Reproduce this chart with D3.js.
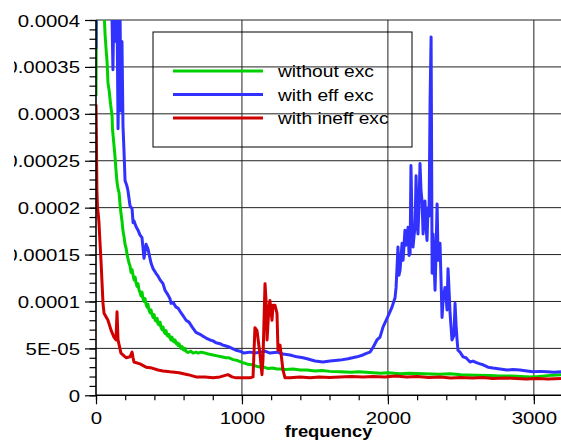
<!DOCTYPE html>
<html>
<head>
<meta charset="utf-8">
<script src="https://cdn.jsdelivr.net/npm/d3@7"></script>
<style>
  html, body { margin: 0; padding: 0; background: #fff; }
  svg { display: block; }
  text { font-family: "Liberation Sans", Arial, Helvetica, sans-serif; fill: #000; }
</style>
</head>
<body>
<svg id="chart" width="561" height="443"></svg>
<script>
// ---------- DATA ----------
const seriesNames = ["without exc", "with eff exc", "with ineff exc"];
const seriesColors = ["#00d000", "#3232ff", "#d00000"];

const xTickValues = [0, 1000, 2000, 3000];
const xTickLabels = ["0", "1000", "2000", "3000"];
const yTickValues = [0, 0.00005, 0.0001, 0.00015, 0.0002, 0.00025, 0.0003, 0.00035, 0.0004];
const yTickLabels = ["0", "5E-05", "0.0001", "0.00015", "0.0002", "0.00025", "0.0003", "0.00035", "0.0004"];
const xLabel = "frequency";

// [frequency, amplitude]
const withoutExc = [[0,31.9e-5],[7,60e-5],[20,58e-5],[35,50e-5],[48,43e-5],[55,41e-5],[62,38.5e-5],[69,36.9e-5],[76,35.5e-5],[82,33.3e-5],[90,32.5e-5],[100,31e-5],[110,29.8e-5],[113,28.4e-5],[121,27e-5],[130,25.5e-5],[137,24e-5],[144,22.7e-5],[151,22e-5],[158,21.6e-5],[165,20.3e-5],[171,19.4e-5],[178,18.6e-5],[185,17.5e-5],[192,16.9e-5],[199,16.1e-5],[206,15.7e-5],[213,15e-5],[220,14.5e-5],[226,14.1e-5],[233,13.8e-5],[240,13.1e-5],[247,13.4e-5],[254,12.8e-5],[261,12.3e-5],[268,12.6e-5],[274,12e-5],[281,11.6e-5],[288,11.9e-5],[295,11.2e-5],[301,11e-5],[308,10.6e-5],[315,11e-5],[322,10.3e-5],[329,10e-5],[336,10.3e-5],[343,9.7e-5],[350,9.4e-5],[356,9.7e-5],[363,9.1e-5],[370,8.8e-5],[377,9.1e-5],[384,8.6e-5],[391,8.3e-5],[398,8.6e-5],[405,8e-5],[412,7.9e-5],[419,8.2e-5],[425,7.6e-5],[432,7.5e-5],[439,7.8e-5],[446,7.2e-5],[453,7e-5],[459,7.3e-5],[466,6.8e-5],[473,6.6e-5],[480,6.9e-5],[486,6.4e-5],[493,6.3e-5],[500,6.5e-5],[507,6.1e-5],[514,5.9e-5],[521,6.2e-5],[528,5.8e-5],[535,5.7e-5],[542,5.9e-5],[549,5.5e-5],[556,5.6e-5],[562,5.3e-5],[569,5.5e-5],[576,5.2e-5],[583,5e-5],[590,5.2e-5],[596,4.9e-5],[603,4.8e-5],[610,5e-5],[617,4.7e-5],[624,4.6e-5],[637,4.6e-5],[650,4.7e-5],[665,4.5e-5],[685,4.6e-5],[700,4.5e-5],[720,4.6e-5],[747,4.5e-5],[770,4.4e-5],[802,4.3e-5],[830,4.2e-5],[860,4.1e-5],[890,4e-5],[911,4e-5],[940,3.8e-5],[970,3.7e-5],[1000,3.5e-5],[1014,3.45e-5],[1040,3.3e-5],[1070,3.25e-5],[1100,3.1e-5],[1124,3e-5],[1150,3e-5],[1180,2.85e-5],[1210,2.9e-5],[1240,2.8e-5],[1261,2.8e-5],[1300,2.75e-5],[1350,2.8e-5],[1400,2.7e-5],[1446,2.7e-5],[1500,2.6e-5],[1550,2.65e-5],[1600,2.55e-5],[1672,2.5e-5],[1750,2.45e-5],[1800,2.5e-5],[1898,2.4e-5],[1950,2.35e-5],[2000,2.4e-5],[2083,2.3e-5],[2150,2.35e-5],[2250,2.3e-5],[2350,2.25e-5],[2426,2.3e-5],[2500,2.2e-5],[2600,2.15e-5],[2700,2.1e-5],[2768,2.07e-5],[2850,2.05e-5],[2974,1.96e-5],[3030,2e-5],[3077,2.07e-5],[3130,2.15e-5],[3186,2.2e-5]];

const withEffExc = [[0,36.9e-5],[5,60e-5],[30,70e-5],[60,65e-5],[90,55e-5],[105,46e-5],[110,40e-5],[116,34.7e-5],[123,42e-5],[137,37.7e-5],[144,41e-5],[151,28.4e-5],[158,35.6e-5],[164,42e-5],[171,30.3e-5],[178,37.7e-5],[185,28.7e-5],[192,26e-5],[199,22.9e-5],[212,22.3e-5],[219,21.8e-5],[233,20.2e-5],[247,19.9e-5],[254,18.4e-5],[260,18.6e-5],[274,18e-5],[288,17.6e-5],[301,17.1e-5],[315,16.8e-5],[329,14.6e-5],[343,16.1e-5],[356,15.6e-5],[370,14.6e-5],[377,14.1e-5],[391,13.5e-5],[411,13e-5],[425,12.7e-5],[439,12.3e-5],[459,11.9e-5],[473,11.2e-5],[493,10.7e-5],[507,10.3e-5],[514,9.8e-5],[528,9.9e-5],[548,9.4e-5],[562,9.3e-5],[582,8.8e-5],[596,8.5e-5],[617,8e-5],[637,7.8e-5],[658,7.3e-5],[685,6.7e-5],[713,6.5e-5],[733,6.3e-5],[754,6.1e-5],[781,5.9e-5],[802,5.8e-5],[822,5.6e-5],[850,5.5e-5],[870,5.35e-5],[891,5.25e-5],[911,5.15e-5],[939,4.95e-5],[959,4.8e-5],[987,4.7e-5],[1014,4.5e-5],[1055,4.6e-5],[1089,4.5e-5],[1124,4.6e-5],[1158,4.7e-5],[1192,4.5e-5],[1240,4.6e-5],[1281,4.4e-5],[1329,4.3e-5],[1377,4.1e-5],[1418,4e-5],[1446,3.9e-5],[1501,3.65e-5],[1555,3.55e-5],[1603,3.65e-5],[1672,3.75e-5],[1727,3.9e-5],[1788,4.1e-5],[1829,4.3e-5],[1857,4.5e-5],[1877,4.6e-5],[1898,5.1e-5],[1925,5.9e-5],[1946,6.2e-5],[1967,7.3e-5],[1994,8.2e-5],[2014,8.9e-5],[2028,9.4e-5],[2049,10.4e-5],[2056,11.5e-5],[2069,15.8e-5],[2076,12.8e-5],[2083,13.3e-5],[2097,16.2e-5],[2104,14.4e-5],[2117,17.6e-5],[2124,16e-5],[2131,16.5e-5],[2138,17.9e-5],[2145,14.9e-5],[2152,15.1e-5],[2158,24.5e-5],[2165,18.6e-5],[2172,15.8e-5],[2179,17e-5],[2186,17.9e-5],[2193,23.4e-5],[2200,18.6e-5],[2206,17.2e-5],[2213,20.2e-5],[2220,24.7e-5],[2227,21.8e-5],[2234,20.7e-5],[2241,17.2e-5],[2248,19.1e-5],[2254,20.7e-5],[2261,18.1e-5],[2268,16.5e-5],[2275,20e-5],[2282,19.1e-5],[2289,31.4e-5],[2296,38.2e-5],[2303,13e-5],[2309,17.2e-5],[2316,14.4e-5],[2323,11.2e-5],[2330,15.4e-5],[2337,20.4e-5],[2344,14.4e-5],[2357,16.2e-5],[2364,12.3e-5],[2371,8.3e-5],[2378,10.1e-5],[2391,11.5e-5],[2398,10.7e-5],[2405,9.1e-5],[2412,13.5e-5],[2419,11.2e-5],[2426,8.75e-5],[2439,5.9e-5],[2453,6.4e-5],[2460,9.8e-5],[2467,7.5e-5],[2474,5.9e-5],[2480,4.8e-5],[2494,4.6e-5],[2515,4.1e-5],[2535,4e-5],[2563,3.55e-5],[2583,3.65e-5],[2611,3.45e-5],[2631,3.35e-5],[2652,3.25e-5],[2686,3e-5],[2720,2.9e-5],[2768,2.8e-5],[2816,2.7e-5],[2857,2.75e-5],[2905,2.7e-5],[2953,2.6e-5],[2994,2.5e-5],[3042,2.55e-5],[3090,2.5e-5],[3138,2.45e-5],[3186,2.5e-5]];

const withIneffExc = [[0,31e-5],[3,27e-5],[6,22e-5],[10,20e-5],[15,19.4e-5],[20,18.5e-5],[25,17e-5],[34,14.4e-5],[48,9.8e-5],[55,8.75e-5],[82,8e-5],[103,6.95e-5],[123,6.2e-5],[137,5.9e-5],[144,8.9e-5],[151,5.9e-5],[158,5.4e-5],[171,4.5e-5],[192,4.2e-5],[206,4e-5],[233,4.1e-5],[247,4.6e-5],[254,4e-5],[260,3.55e-5],[301,3.35e-5],[343,3e-5],[384,2.9e-5],[425,2.7e-5],[459,2.6e-5],[507,2.5e-5],[569,2.4e-5],[630,2.2e-5],[685,1.96e-5],[747,1.96e-5],[802,1.86e-5],[850,1.96e-5],[904,2.2e-5],[932,1.96e-5],[959,1.86e-5],[1014,1.86e-5],[1055,1.86e-5],[1076,1.96e-5],[1089,7.2e-5],[1103,6.9e-5],[1124,4.3e-5],[1137,2.2e-5],[1144,3.8e-5],[1158,11.9e-5],[1165,10.1e-5],[1172,5.9e-5],[1185,9.4e-5],[1192,10.1e-5],[1206,8e-5],[1213,9.6e-5],[1226,9.6e-5],[1240,8.75e-5],[1247,4.8e-5],[1261,5.35e-5],[1281,2.7e-5],[1295,1.86e-5],[1329,1.86e-5],[1398,1.96e-5],[1466,1.86e-5],[1530,1.95e-5],[1600,1.9e-5],[1672,1.95e-5],[1750,2e-5],[1830,1.95e-5],[1900,2e-5],[1980,1.95e-5],[2050,2.05e-5],[2130,1.95e-5],[2200,2e-5],[2280,1.9e-5],[2360,1.95e-5],[2430,1.85e-5],[2500,1.9e-5],[2580,1.85e-5],[2650,1.9e-5],[2720,1.8e-5],[2800,1.85e-5],[2880,1.8e-5],[2950,1.75e-5],[3020,1.8e-5],[3100,1.75e-5],[3186,1.8e-5]];

const allSeries = [withoutExc, withEffExc, withIneffExc];

// ---------- LAYOUT ----------
const svg = d3.select("#chart");
const plotLeft = 96, plotRight = 561, plotTop = 20, plotBottom = 395.3;
const stretch = 1.2;

const x = d3.scaleLinear().domain([0, 3186]).range([plotLeft, plotRight]);
const y = d3.scaleLinear().domain([0, 0.0004]).range([plotBottom, plotTop]);

const defs = svg.append("defs");
defs.append("clipPath").attr("id", "plotClip")
  .append("rect").attr("x", plotLeft).attr("y", plotTop).attr("width", plotRight - plotLeft).attr("height", plotBottom - plotTop);
defs.append("clipPath").attr("id", "labelClip")
  .append("rect").attr("x", 14).attr("y", 0).attr("width", 547).attr("height", 443);

// gridlines
const grid = svg.append("g");
grid.selectAll("line.h").data(yTickValues.filter(v => v > 0)).join("line").attr("class", "h")
  .attr("x1", plotLeft).attr("x2", plotRight)
  .attr("y1", d => y(d)).attr("y2", d => y(d))
  .attr("stroke", "#222").attr("stroke-width", 1);
grid.selectAll("line.v").data(xTickValues.filter(v => v > 0)).join("line").attr("class", "v")
  .attr("x1", d => x(d)).attr("x2", d => x(d))
  .attr("y1", plotTop).attr("y2", plotBottom)
  .attr("stroke", "#222").attr("stroke-width", 1);

// legend box & entries
const legend = svg.append("g");
legend.append("rect").attr("x", 153).attr("y", 32).attr("width", 259).attr("height", 115)
  .attr("fill", "none").attr("stroke", "#000").attr("stroke-width", 1);
const items = legend.selectAll("g.item").data(seriesNames).join("g").attr("class", "item")
  .attr("transform", (d, i) => `translate(0, ${71 + i * 23.5})`);
items.append("line").attr("x1", 173).attr("x2", 263).attr("y1", 0).attr("y2", 0)
  .attr("stroke", (d, i) => seriesColors[i]).attr("stroke-width", 3);
items.append("text").attr("transform", `translate(278, 6) scale(${stretch},1)`)
  .style("font-size", "16px").text(d => d);

// data lines
const lineGen = d3.line().x(d => x(d[0])).y(d => y(d[1]));
const plot = svg.append("g").attr("clip-path", "url(#plotClip)");
plot.selectAll("path").data(allSeries).join("path")
  .attr("d", lineGen)
  .attr("fill", "none")
  .attr("stroke", (d, i) => seriesColors[i])
  .attr("stroke-width", 3)
  .attr("stroke-linejoin", "round");

// axes
const yMinor = d3.range(0, 41).map(i => i * 0.00001);
const xMinor = d3.range(0, 17).map(i => i * 200);

const yAxisWrap = svg.append("g").attr("clip-path", "url(#labelClip)");
const yMinorG = yAxisWrap.append("g").attr("transform", `translate(${plotLeft},0)`)
  .call(d3.axisLeft(y).tickValues(yMinor).tickSize(6.5).tickFormat(""));
const yMajorG = yAxisWrap.append("g").attr("transform", `translate(${plotLeft},0)`)
  .call(d3.axisLeft(y).tickValues(yTickValues).tickSize(11)
    .tickFormat((d, i) => yTickLabels[i]));

const xMinorG = svg.append("g").attr("transform", `translate(0,${plotBottom})`)
  .call(d3.axisBottom(x).tickValues(xMinor).tickSize(5).tickFormat(""));
const xMajorG = svg.append("g").attr("transform", `translate(0,${plotBottom})`)
  .call(d3.axisBottom(x).tickValues(xTickValues).tickSize(9)
    .tickFormat((d, i) => xTickLabels[i]));

[yMinorG, yMajorG, xMinorG, xMajorG].forEach(g => {
  g.selectAll(".domain").attr("stroke", "#000").attr("stroke-width", 1.6);
  g.selectAll(".tick line").attr("stroke", "#000").attr("stroke-width", 1.2);
});
[yMinorG, xMinorG].forEach(g => g.select(".domain").remove());
yMajorG.select(".domain").attr("d", `M0,${plotBottom}V${plotTop}`);
xMajorG.select(".domain").attr("d", `M${plotLeft},0H${plotRight}`);

yMajorG.selectAll(".tick text")
  .attr("x", null).attr("dy", null)
  .attr("transform", `translate(-16,6) scale(${stretch},1)`)
  .attr("text-anchor", "end")
  .style("font-size", "17px").style("font-family", "'Liberation Sans', Arial, sans-serif").attr("fill", "#000");
xMajorG.selectAll(".tick text")
  .attr("y", null).attr("dy", null)
  .attr("transform", `translate(0,29) scale(${stretch},1)`)
  .attr("text-anchor", "middle")
  .style("font-size", "17px").style("font-family", "'Liberation Sans', Arial, sans-serif").attr("fill", "#000");

svg.append("text")
  .attr("transform", `translate(${(plotLeft + plotRight) / 2}, 437) scale(1.08,1)`)
  .attr("text-anchor", "middle")
  .style("font-size", "17px").style("font-weight", "bold")
  .text(xLabel);
</script>
</body>
</html>
